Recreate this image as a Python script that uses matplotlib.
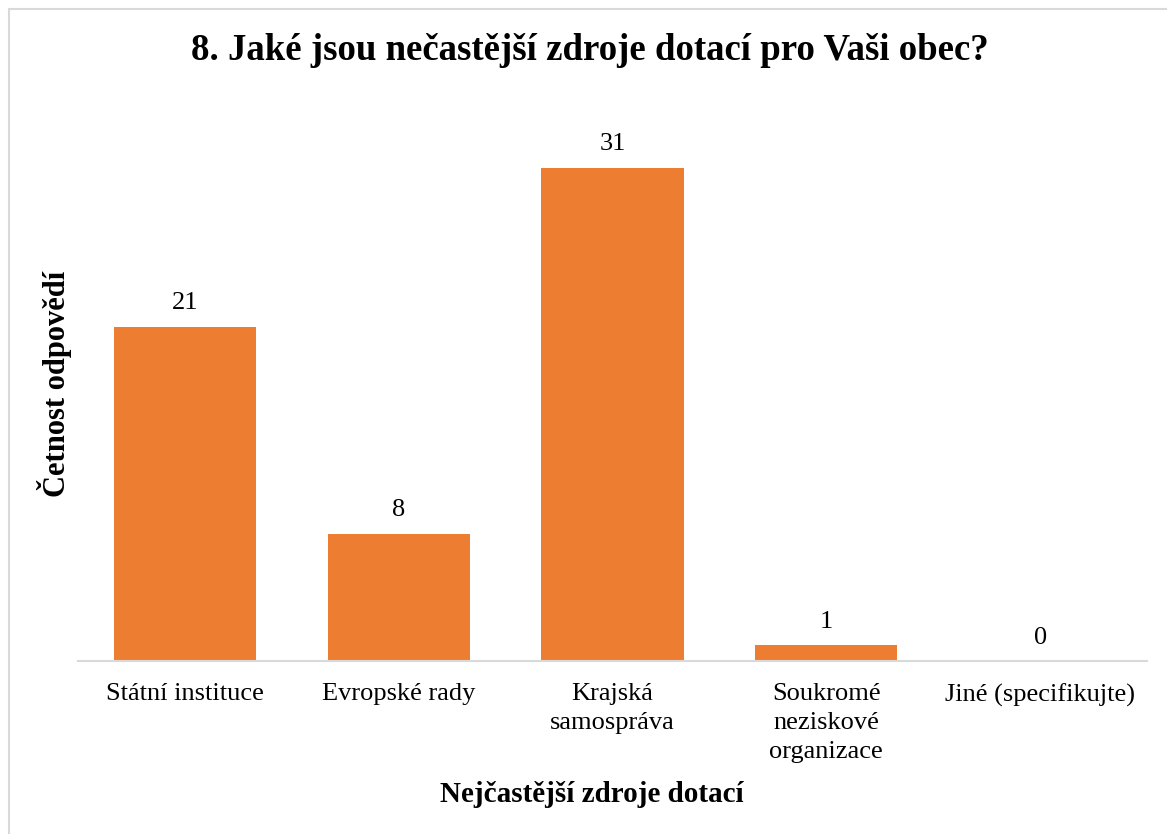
import matplotlib
matplotlib.use("Agg")
import matplotlib.pyplot as plt
from matplotlib.patches import Rectangle

categories = ["Státní instituce", "Evropské rady", "Krajská\nsamospráva",
              "Soukromé\nneziskové\norganizace", "Jiné (specifikujte)"]
values = [21, 8, 31, 1, 0]

title = "8. Jaké jsou nečastější zdroje dotací pro Vaši obec?"
xlabel = "Nejčastější zdroje dotací"
ylabel = "Četnost odpovědí"

plt.rcParams['font.family'] = ['Liberation Serif', 'DejaVu Serif']

W, H = 1167, 834
fig = plt.figure(figsize=(W / 100, H / 100), dpi=100)

# outer border
fig.patches.append(Rectangle((9 / W, -0.01), 1.05, 1 - 9 / H + 0.01,
                             transform=fig.transFigure, fill=False,
                             edgecolor='#d9d9d9', linewidth=1.5))

ax = fig.add_axes([78 / W, 1 - 661 / H, (1147 - 78) / W, (661 - 120) / H])
x = range(len(categories))
bars = ax.bar(x, values, width=0.665, color='#ED7D31')
ax.set_xlim(-0.5, len(categories) - 0.5)
ax.set_ylim(0, 34)

for xi, v in zip(x, values):
    ax.annotate(str(v), (xi, v), xytext=(0, 9), textcoords='offset points',
                ha='center', va='bottom', fontsize=19)

ax.set_yticks([])
for s in ['top', 'right', 'left']:
    ax.spines[s].set_visible(False)
ax.spines['bottom'].set_color('#d9d9d9')
ax.spines['bottom'].set_linewidth(1.5)
ax.set_xticks(list(x))
ax.set_xticklabels(categories, fontsize=19, linespacing=1.4)
ax.tick_params(axis='x', length=0, pad=16)

fig.text(592 / W, 1 - 795 / H, xlabel, ha='center', va='center',
         fontsize=21, fontweight='bold')
fig.text(54 / W, 1 - 384 / H, ylabel, ha='center', va='center',
         rotation=90, fontsize=22, fontweight='bold')

fig.text(590 / W, 1 - 51 / H, title, ha='center', va='center',
         fontsize=26.5, fontweight='bold')

fig.savefig("out.png", dpi=100, facecolor='white')
